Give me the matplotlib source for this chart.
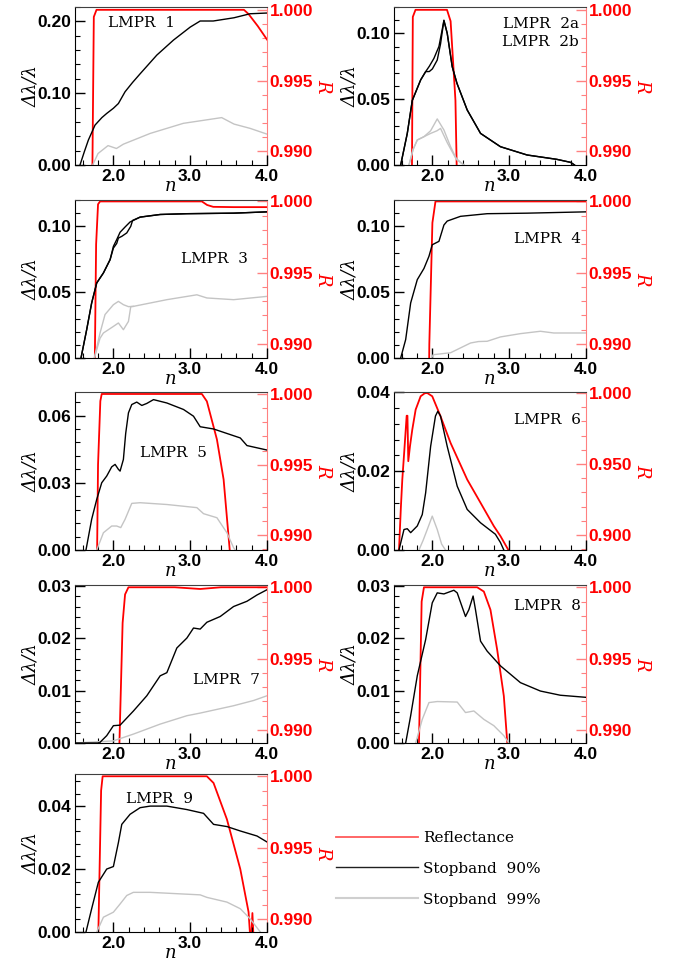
import matplotlib
matplotlib.use("Agg")
import matplotlib.pyplot as plt
from matplotlib.ticker import AutoMinorLocator, FormatStrFormatter, MultipleLocator
from matplotlib.lines import Line2D
from matplotlib.font_manager import FontProperties

# ---------------- data ----------------
# Panel 1
p1_red_n = [1.72, 1.745, 1.78, 3.70, 3.76, 3.88, 4.0]
p1_red = [0.985, 0.9995, 1.0, 1.0, 0.9997, 0.99885, 0.9979]
p1_blk_n = [1.565, 1.62, 1.674, 1.761, 1.85, 1.913, 2.0, 2.065, 2.152, 2.25, 2.348, 2.565, 2.783, 3.0, 3.13, 3.30, 3.57, 3.78, 4.0]
p1_blk = [0.0, 0.018, 0.0347, 0.0556, 0.066, 0.0718, 0.079, 0.0856, 0.102, 0.115, 0.127, 0.153, 0.174, 0.192, 0.2005, 0.2005, 0.205, 0.2106, 0.2116]
p1_gry_n = [1.73, 1.80, 1.93, 2.04, 2.13, 2.48, 2.91, 3.41, 3.57, 3.78, 4.0]
p1_gry = [0.0, 0.016, 0.027, 0.023, 0.029, 0.044, 0.058, 0.066, 0.057, 0.051, 0.043]

# Panel 2 (2a and 2b)
p2_red_n = [1.73, 1.745, 1.78, 2.19, 2.237, 2.30, 2.33]
p2_red = [0.985, 0.9995, 1.0, 1.0, 0.9992, 0.9936, 0.985]
p2a_blk_n = [1.587, 1.673, 1.738, 1.847, 1.912, 1.96, 2.00, 2.063, 2.106, 2.15, 2.193, 2.258, 2.32, 2.453, 2.627, 2.886, 3.233, 3.62, 3.80, 3.85]
p2a_blk = [0.0, 0.024, 0.049, 0.0646, 0.0709, 0.071, 0.073, 0.0797, 0.092, 0.110, 0.100, 0.0747, 0.062, 0.0418, 0.024, 0.0139, 0.0076, 0.0043, 0.002, 0.0]
p2b_blk_n = [1.587, 1.673, 1.738, 1.847, 1.912, 1.96, 2.02, 2.085, 2.15, 2.193, 2.258, 2.32, 2.453, 2.627, 2.886, 3.233, 3.62, 3.80, 3.85]
p2b_blk = [0.0, 0.024, 0.049, 0.0646, 0.0709, 0.075, 0.081, 0.090, 0.1096, 0.100, 0.0747, 0.062, 0.0418, 0.024, 0.0139, 0.0076, 0.0043, 0.002, 0.0]
p2a_gry_n = [1.695, 1.75, 1.803, 1.89, 1.977, 2.063, 2.15, 2.236, 2.32, 2.41]
p2a_gry = [0.0, 0.012, 0.019, 0.0215, 0.026, 0.035, 0.0266, 0.014, 0.0038, 0.0]
p2b_gry_n = [1.695, 1.75, 1.803, 1.89, 1.977, 2.06, 2.106, 2.193, 2.30, 2.41]
p2b_gry = [0.0, 0.012, 0.019, 0.0215, 0.024, 0.026, 0.0278, 0.017, 0.0055, 0.0]

# Panel 3
p3_red_n = [1.75, 1.775, 1.80, 1.826, 3.152, 3.22, 3.30, 3.565, 4.0]
p3_red = [0.985, 0.997, 0.9998, 1.0, 1.0, 0.99975, 0.99962, 0.9996, 0.9996]
p3a_blk_n = [1.578, 1.652, 1.717, 1.783, 1.87, 1.957, 2.0, 2.043, 2.087, 2.152, 2.217, 2.348, 2.609, 2.957, 3.565, 4.0]
p3a_blk = [0.0, 0.0215, 0.0418, 0.057, 0.0646, 0.0747, 0.0848, 0.0899, 0.0955, 0.0995, 0.1033, 0.107, 0.109, 0.1096, 0.110, 0.111]
p3b_blk_n = [1.578, 1.652, 1.717, 1.783, 1.87, 1.957, 2.0, 2.043, 2.065, 2.109, 2.174, 2.226, 2.25, 2.348, 2.609, 2.957, 3.565, 4.0]
p3b_blk = [0.0, 0.0215, 0.0418, 0.057, 0.0646, 0.0747, 0.0835, 0.087, 0.0911, 0.0924, 0.095, 0.100, 0.1045, 0.107, 0.109, 0.1096, 0.110, 0.111]
p3a_gry_n = [1.752, 1.826, 1.891, 2.0, 2.065, 2.13, 2.196, 2.26, 2.696, 3.087, 3.217, 3.565, 4.0]
p3a_gry = [0.0, 0.019, 0.033, 0.0405, 0.043, 0.0405, 0.039, 0.0392, 0.0443, 0.048, 0.0456, 0.0443, 0.0468]
p3b_gry_n = [1.752, 1.826, 1.87, 2.0, 2.065, 2.13, 2.196, 2.226, 2.26]
p3b_gry = [0.0, 0.015, 0.019, 0.024, 0.0266, 0.0215, 0.0278, 0.039, 0.0392]

# Panel 4
p4_red_n = [1.95, 1.96, 2.0, 2.04, 4.0]
p4_red = [0.985, 0.990, 0.9985, 1.0, 1.0]
p4_blk_n = [1.587, 1.652, 1.717, 1.803, 1.89, 1.955, 1.998, 2.085, 2.15, 2.193, 2.366, 2.713, 3.233, 4.0]
p4_blk = [0.0, 0.014, 0.0418, 0.0595, 0.068, 0.0772, 0.086, 0.0886, 0.101, 0.104, 0.1076, 0.1096, 0.110, 0.111]
p4_gry_n = [1.99, 2.01, 2.237, 2.497, 2.60, 2.713, 2.886, 3.146, 3.406, 3.58, 4.0]
p4_gry = [0.0, 0.0025, 0.004, 0.0114, 0.0125, 0.0127, 0.016, 0.0185, 0.0203, 0.019, 0.019]

# Panel 5
p5_red_n = [1.78, 1.80, 1.83, 1.848, 3.152, 3.217, 3.348, 3.435, 3.53]
p5_red = [0.985, 0.995, 0.9995, 1.0, 1.0, 0.99948, 0.99678, 0.99395, 0.988]
p5_blk_n = [1.643, 1.717, 1.783, 1.848, 1.913, 1.978, 2.022, 2.065, 2.087, 2.13, 2.16, 2.196, 2.239, 2.304, 2.37, 2.435, 2.522, 2.696, 2.913, 3.043, 3.13, 3.304, 3.652, 3.739, 4.0]
p5_blk = [0.0, 0.0137, 0.0226, 0.030, 0.033, 0.0371, 0.0382, 0.036, 0.0352, 0.0404, 0.052, 0.0612, 0.0649, 0.066, 0.0645, 0.0654, 0.0671, 0.0656, 0.0627, 0.0597, 0.055, 0.054, 0.050, 0.0466, 0.0446]
p5_gry_n = [1.783, 1.87, 1.978, 2.043, 2.096, 2.152, 2.239, 2.348, 2.696, 3.087, 3.174, 3.348, 3.478, 3.565, 3.587]
p5_gry = [0.0, 0.0077, 0.0107, 0.0107, 0.010, 0.0137, 0.0208, 0.0211, 0.0203, 0.0189, 0.0162, 0.0144, 0.0077, 0.001, 0.0]

# Panel 6
p6_red_n = [1.55, 1.565, 1.59, 1.608, 1.635, 1.665, 1.675, 1.686, 1.708, 1.738, 1.782, 1.847, 1.90, 1.933, 1.998, 2.106, 2.236, 2.453, 2.627, 2.80, 2.886, 3.00]
p6_red = [0.88, 0.8895, 0.92, 0.939, 0.960, 0.984, 0.984, 0.952, 0.9625, 0.9742, 0.9883, 0.9977, 0.9998, 1.0, 0.9977, 0.9836, 0.9649, 0.9391, 0.9227, 0.9063, 0.8993, 0.8885]
p6_blk_n = [1.565, 1.63, 1.673, 1.717, 1.803, 1.868, 1.912, 1.977, 2.04, 2.07, 2.106, 2.193, 2.323, 2.453, 2.627, 2.82, 2.886, 2.93]
p6_blk = [0.0, 0.0052, 0.0054, 0.0044, 0.0061, 0.009, 0.0145, 0.0263, 0.034, 0.0352, 0.034, 0.0263, 0.0162, 0.0103, 0.0069, 0.004, 0.0019, 0.0]
p6_gry_n = [1.825, 1.88, 1.933, 1.998, 2.063, 2.12, 2.17]
p6_gry = [0.0, 0.0025, 0.0052, 0.0086, 0.0052, 0.0015, 0.0]

# Panel 7
p7_red_n = [2.07, 2.078, 2.12, 2.152, 2.196, 2.8, 3.13, 3.4, 4.0]
p7_red = [0.985, 0.989, 0.9975, 0.9995, 1.0, 1.0, 0.99988, 1.0, 1.0]
p7_blk_n = [1.5, 1.817, 1.913, 2.0, 2.087, 2.261, 2.435, 2.609, 2.696, 2.826, 2.957, 3.043, 3.13, 3.217, 3.391, 3.565, 3.739, 3.87, 4.0]
p7_blk = [0.0, 0.0, 0.0014, 0.0033, 0.0034, 0.0061, 0.009, 0.0128, 0.0134, 0.0181, 0.020, 0.0219, 0.0217, 0.023, 0.0241, 0.026, 0.027, 0.0282, 0.0292]
p7_gry_n = [1.5, 2.0, 2.261, 2.609, 2.957, 3.13, 3.565, 3.826, 4.0]
p7_gry = [0.0, 0.0004, 0.0017, 0.0036, 0.0052, 0.0057, 0.0071, 0.0081, 0.009]

# Panel 8
p8_red_n = [1.82, 1.825, 1.86, 1.89, 2.583, 2.67, 2.756, 2.843, 2.93, 2.99]
p8_red = [0.985, 0.989, 0.999, 1.0, 1.0, 0.9997, 0.99842, 0.99563, 0.99237, 0.988]
p8_blk_n = [1.652, 1.717, 1.803, 1.912, 1.998, 2.063, 2.15, 2.28, 2.323, 2.431, 2.475, 2.53, 2.561, 2.627, 2.713, 2.886, 3.146, 3.406, 3.665, 4.0]
p8_blk = [0.0, 0.0052, 0.0128, 0.0197, 0.0267, 0.0286, 0.0284, 0.0291, 0.0286, 0.0241, 0.0254, 0.028, 0.0254, 0.0194, 0.0175, 0.0147, 0.0115, 0.0099, 0.0091, 0.0087]
p8_gry_n = [1.782, 1.868, 1.955, 2.063, 2.323, 2.431, 2.54, 2.67, 2.8, 2.93, 2.995]
p8_gry = [0.0, 0.0045, 0.0077, 0.0079, 0.0078, 0.0058, 0.0061, 0.0045, 0.0033, 0.0014, 0.0]

# Panel 9
p9_red_n = [1.80, 1.804, 1.84, 1.86, 3.217, 3.304, 3.478, 3.652, 3.76, 3.79, 3.81, 3.83]
p9_red = [0.985, 0.989, 0.999, 1.0, 1.0, 0.99953, 0.99698, 0.99349, 0.99047, 0.9880, 0.9904, 0.9880]
p9_blk_n = [1.643, 1.717, 1.804, 1.913, 2.0, 2.065, 2.109, 2.217, 2.348, 2.478, 2.696, 2.957, 3.174, 3.304, 3.478, 3.652, 3.87, 4.0]
p9_blk = [0.0, 0.0074, 0.0158, 0.020, 0.0208, 0.0284, 0.0342, 0.0374, 0.0395, 0.040, 0.040, 0.0389, 0.0377, 0.0342, 0.0335, 0.0321, 0.0305, 0.0286]
p9_gry_n = [1.783, 1.87, 2.0, 2.087, 2.174, 2.26, 2.478, 3.13, 3.217, 3.478, 3.652, 3.78, 3.913]
p9_gry = [0.0, 0.0047, 0.0063, 0.0089, 0.0116, 0.0126, 0.0126, 0.0118, 0.011, 0.0095, 0.0074, 0.0042, 0.0]

panel_labels = ["LMPR  1", "LMPR  2a\nLMPR  2b", "LMPR  3", "LMPR  4", "LMPR  5",
                "LMPR  6", "LMPR  7", "LMPR  8", "LMPR  9"]
legend_labels = ["Reflectance", "Stopband  90%", "Stopband  99%"]
x_ticks = [2.0, 3.0, 4.0]

# ---------------- styling ----------------
RED = "#ff0000"
RED_AX = "#ff8080"
BLACK = "#000000"
GRAY = "#c4c4c4"
TICKFONT = "Liberation Sans"
SERIF = "DejaVu Serif"

panels = [
    dict(red=[(p1_red_n, p1_red)], blk=[(p1_blk_n, p1_blk)], gry=[(p1_gry_n, p1_gry)],
         ylim=(0, 0.22), yt=[0.0, 0.10, 0.20], rlim=(0.98903, 1.0002), rt=[0.990, 0.995, 1.000], rminor=0.001,
         txt=(0.174, 0.897, "left")),
    dict(red=[(p2_red_n, p2_red)], blk=[(p2a_blk_n, p2a_blk), (p2b_blk_n, p2b_blk)],
         gry=[(p2a_gry_n, p2a_gry), (p2b_gry_n, p2b_gry)],
         ylim=(0, 0.12), yt=[0.0, 0.05, 0.10], rlim=(0.98903, 1.0002), rt=[0.990, 0.995, 1.000], rminor=0.001,
         txt=(0.962, 0.838, "right")),
    dict(red=[(p3_red_n, p3_red)], blk=[(p3a_blk_n, p3a_blk), (p3b_blk_n, p3b_blk)],
         gry=[(p3a_gry_n, p3a_gry), (p3b_gry_n, p3b_gry)],
         ylim=(0, 0.12), yt=[0.0, 0.05, 0.10], rlim=(0.98901, 1.0001), rt=[0.990, 0.995, 1.000], rminor=0.001,
         txt=(0.727, 0.624, "center")),
    dict(red=[(p4_red_n, p4_red)], blk=[(p4_blk_n, p4_blk)], gry=[(p4_gry_n, p4_gry)],
         ylim=(0, 0.12), yt=[0.0, 0.05, 0.10], rlim=(0.98901, 1.0001), rt=[0.990, 0.995, 1.000], rminor=0.001,
         txt=(0.975, 0.755, "right")),
    dict(red=[(p5_red_n, p5_red)], blk=[(p5_blk_n, p5_blk)], gry=[(p5_gry_n, p5_gry)],
         ylim=(0, 0.0705), yt=[0.0, 0.03, 0.06], rlim=(0.98896, 1.00014), rt=[0.990, 0.995, 1.000], rminor=0.001,
         txt=(0.513, 0.615, "center")),
    dict(red=[(p6_red_n, p6_red)], blk=[(p6_blk_n, p6_blk)], gry=[(p6_gry_n, p6_gry)],
         ylim=(0, 0.0401), yt=[0.0, 0.02, 0.04], rlim=(0.8895, 1.0007), rt=[0.900, 0.950, 1.000], rminor=0.01,
         txt=(0.975, 0.821, "right")),
    dict(red=[(p7_red_n, p7_red)], blk=[(p7_blk_n, p7_blk)], gry=[(p7_gry_n, p7_gry)],
         ylim=(0, 0.0301), yt=[0.0, 0.01, 0.02, 0.03], rlim=(0.98907, 1.00016), rt=[0.990, 0.995, 1.000], rminor=0.001,
         txt=(0.791, 0.40, "center")),
    dict(red=[(p8_red_n, p8_red)], blk=[(p8_blk_n, p8_blk)], gry=[(p8_gry_n, p8_gry)],
         ylim=(0, 0.0301), yt=[0.0, 0.01, 0.02, 0.03], rlim=(0.98907, 1.00016), rt=[0.990, 0.995, 1.000], rminor=0.001,
         txt=(0.975, 0.868, "right")),
    dict(red=[(p9_red_n, p9_red)], blk=[(p9_blk_n, p9_blk)], gry=[(p9_gry_n, p9_gry)],
         ylim=(0, 0.0502), yt=[0.0, 0.02, 0.04], rlim=(0.98907, 1.00016), rt=[0.990, 0.995, 1.000], rminor=0.001,
         txt=(0.44, 0.843, "center")),
]

W, H = 674, 959
fig = plt.figure(figsize=(W / 100, H / 100), dpi=100)

col_left = [75, 394]
col_w = 192
row_top = [7, 200, 392, 585, 774]
row_h = 158

tick_fp = FontProperties(family=TICKFONT, weight="bold", size=12.5)

for i, p in enumerate(panels):
    r, c = divmod(i, 2)
    rect = [col_left[c] / W, 1 - (row_top[r] + row_h) / H, col_w / W, row_h / H]
    ax = fig.add_axes(rect)
    ax2 = ax.twinx()
    ax.set_zorder(ax2.get_zorder() + 1)
    ax.patch.set_visible(False)

    for n, v in p["gry"]:
        ax.plot(n, v, color=GRAY, lw=1.0, zorder=2)
    for n, v in p["blk"]:
        ax.plot(n, v, color=BLACK, lw=1.0, zorder=3)
    for n, v in p["red"]:
        ax2.plot(n, v, color=RED, lw=1.3)

    ax.set_xlim(1.5, 4.0)
    ax.set_ylim(*p["ylim"])
    ax2.set_ylim(*p["rlim"])
    ax.set_xticks(x_ticks)
    ax.xaxis.set_major_formatter(FormatStrFormatter("%.1f"))
    ax.xaxis.set_minor_locator(MultipleLocator(0.2))
    ax.set_yticks(p["yt"])
    ax.yaxis.set_major_formatter(FormatStrFormatter("%.2f"))
    ax.yaxis.set_minor_locator(AutoMinorLocator(5))
    ax2.set_yticks(p["rt"])
    ax2.yaxis.set_major_formatter(FormatStrFormatter("%.3f"))
    ax2.yaxis.set_minor_locator(MultipleLocator(p["rminor"]))

    ax.tick_params(axis="both", which="major", direction="in", length=7, width=1, color=BLACK, pad=3)
    ax.tick_params(axis="both", which="minor", direction="in", length=3.5, width=0.8, color=BLACK)
    ax.tick_params(axis="y", right=False)
    ax.tick_params(axis="x", top=False, which="both")
    ax2.tick_params(axis="y", which="major", direction="in", length=7, width=1, color=RED_AX,
                    labelcolor=RED, pad=2)
    ax2.tick_params(axis="y", which="minor", direction="in", length=3.5, width=0.8, color=RED_AX)
    for lab in ax.get_xticklabels() + ax.get_yticklabels() + ax2.get_yticklabels():
        lab.set_fontproperties(tick_fp)

    for sp in ["left", "bottom"]:
        ax.spines[sp].set_color(BLACK)
    ax.spines["top"].set_color("#404040")
    ax.spines["right"].set_visible(False)
    ax2.spines["right"].set_color(RED_AX)
    for s in ["left", "top", "bottom"]:
        ax2.spines[s].set_visible(False)

    ax.set_xlabel("n", family=SERIF, style="italic", fontsize=13, labelpad=-5)
    ax.set_ylabel("Δλ/λ", family=SERIF, style="italic", fontsize=13, labelpad=-2)
    ax2.set_ylabel("R", family=SERIF, style="italic", fontsize=13, color=RED, rotation=270,
                   labelpad=14)

    tx, ty, ha = p["txt"]
    ax.text(tx, ty, panel_labels[i], transform=ax.transAxes, ha=ha, va="center",
            family=SERIF, fontsize=11, linespacing=1.35)

handles = [Line2D([], [], color="#ff5a5a", lw=1.3),
           Line2D([], [], color="#202020", lw=1.0),
           Line2D([], [], color="#cfcfcf", lw=1.5)]
fig.legend(handles, legend_labels, loc="upper left", bbox_to_anchor=(336 / W, 1 - 831 / H),
           frameon=False, prop=dict(family=SERIF, size=11), handlelength=5.35,
           handletextpad=0.33, labelspacing=1.1, borderpad=0, borderaxespad=0)

fig.savefig("out.png", dpi=100)
